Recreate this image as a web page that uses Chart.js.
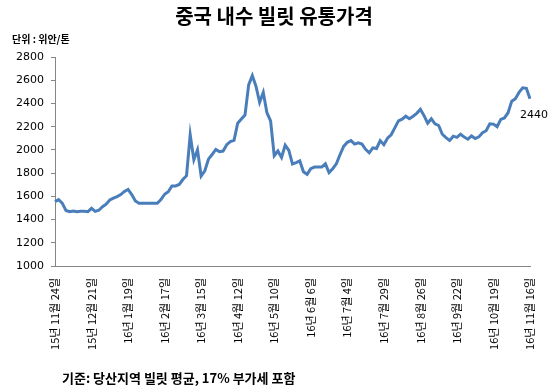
<!DOCTYPE html>
<html>
<head>
<meta charset="utf-8">
<script src="https://cdn.jsdelivr.net/npm/chart.js@4"></script>
<style>
  body { margin: 0; background: #fff; }
  #wrap { position: relative; width: 560px; height: 390px; font-family: "Noto Sans CJK KR", sans-serif; color: #000; }
  #chart { position: absolute; left: 0; top: 0; }
  .title { position: absolute; left: 0; top: 6px; width: 548px; text-align: center; font-size: 20px; line-height: 20px; font-weight: bold; }
  .unit { position: absolute; left: 12px; top: 34px; font-size: 10px; line-height: 10px; font-weight: bold; }
  .note { position: absolute; left: 62px; top: 371px; font-size: 13px; line-height: 13px; font-weight: bold; }
</style>
</head>
<body>
<div id="wrap">
  <canvas id="chart" width="560" height="390"></canvas>
  <div class="title">중국 내수 빌릿 유통가격</div>
  <div class="unit">단위 : 위안/톤</div>
  <div class="note">기준: 당산지역 빌릿 평균, 17% 부가세 포함</div>
</div>
<script>
// 날짜 눈금 (10개 포인트마다 하나)
var tickLabels = ['15년 11월 24일', '15년 12월 21일', '16년 1월 19일', '16년 2월 17일', '16년 3월 15일',
  '16년 4월 12일', '16년 5월 10일', '16년 6월 6일', '16년 7월 4일', '16년 7월 29일',
  '16년 8월 26일', '16년 9월 22일', '16년 10월 19일', '16년 11월 16일'];

// 빌릿 가격 (위안/톤)
var values = [
  1554, 1572, 1540, 1478, 1468, 1474, 1468, 1472, 1472, 1468,
  1497, 1470, 1480, 1510, 1532, 1568, 1585, 1598, 1615, 1642,
  1660, 1615, 1560, 1540, 1540, 1540, 1540, 1540, 1540, 1572,
  1618, 1640, 1689, 1689, 1702, 1745, 1778, 2130, 1915, 2000,
  1775, 1820, 1920, 1960, 2004, 1985, 1990, 2045, 2071, 2082,
  2230, 2265, 2300, 2560, 2640, 2548, 2410, 2495, 2320, 2250,
  1950, 1990, 1935, 2040, 1995, 1878, 1890, 1905, 1812, 1790,
  1838, 1852, 1852, 1852, 1880, 1805, 1838, 1880, 1958, 2030,
  2065, 2080, 2050, 2060, 2050, 2005, 1975, 2018, 2012, 2080,
  2045, 2100, 2130, 2190, 2250, 2265, 2290, 2268, 2290, 2315,
  2349, 2295, 2230, 2268, 2225, 2210, 2135, 2105, 2082, 2118,
  2108, 2135, 2110, 2092, 2120, 2098, 2112, 2148, 2165, 2225,
  2222, 2200, 2263, 2275, 2320, 2420, 2440, 2495, 2535, 2530,
  2440
];

var yMin = 1000, yMax = 2800, yStep = 200;

var labels = [];
for (var i = 0; i < values.length; i++) {
  labels.push(i % 10 === 0 ? tickLabels[i / 10] : '');
}

// 마지막 값 표시
var lastLabel = {
  id: 'lastLabel',
  afterDatasetsDraw: function(chart) {
    var meta = chart.getDatasetMeta(0);
    var pt = meta.data[meta.data.length - 1];
    var ctx = chart.ctx;
    ctx.save();
    ctx.font = '11px "DejaVu Sans"';
    ctx.fillStyle = '#000';
    ctx.textAlign = 'center';
    ctx.textBaseline = 'middle';
    ctx.fillText(values[values.length - 1], pt.x + 4, pt.y + 16);
    ctx.restore();
  }
};

var chart = new Chart(document.getElementById('chart'), {
  type: 'line',
  data: {
    labels: labels,
    datasets: [{
      data: values,
      borderColor: '#4a7ebb',
      borderWidth: 3,
      pointRadius: 0,
      tension: 0,
      fill: false
    }]
  },
  options: {
    responsive: false,
    animation: false,
    layout: { padding: { top: 57, right: 30, bottom: 0, left: 0 } },
    plugins: {
      legend: { display: false },
      tooltip: { enabled: false }
    },
    scales: {
      x: {
        grid: { display: false, drawTicks: false },
        border: { display: true, color: '#868686' },
        ticks: {
          autoSkip: false,
          minRotation: 90,
          maxRotation: 90,
          padding: 12,
          color: '#000',
          font: { family: '"Noto Sans CJK KR"', size: 11 }
        },
        afterFit: function(scale) { scale.height = 124; }
      },
      y: {
        min: yMin,
        max: yMax,
        grid: { drawOnChartArea: false, tickLength: 4, color: '#868686' },
        border: { color: '#868686' },
        ticks: {
          stepSize: yStep,
          padding: 7,
          color: '#000',
          font: { family: 'DejaVu Sans', size: 11 },
          callback: function(value) { return String(value); }
        },
        afterFit: function(scale) { scale.width = 55; }
      }
    }
  },
  plugins: [lastLabel]
});
</script>
</body>
</html>
